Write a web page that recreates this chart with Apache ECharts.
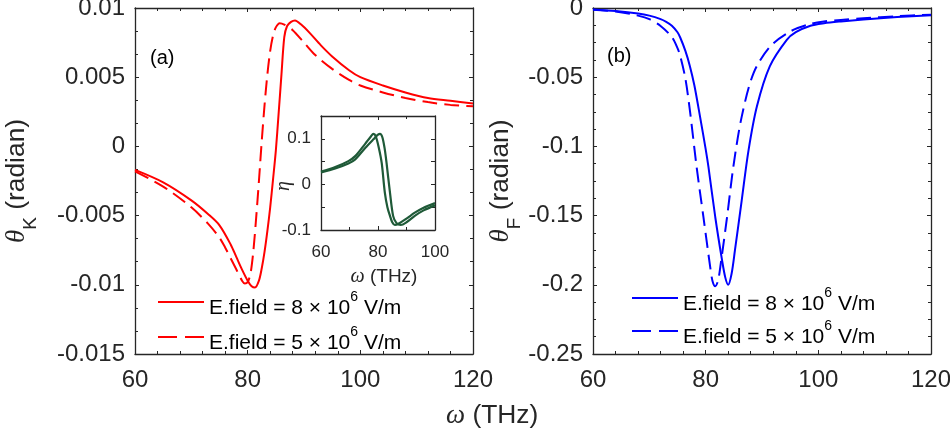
<!DOCTYPE html>
<html>
<head>
<meta charset="utf-8">
<title>Kerr and Faraday rotation</title>
<script src="https://cdn.jsdelivr.net/npm/echarts@6/dist/echarts.min.js"></script>
<style>
  html, body { margin: 0; padding: 0; background: #fff; }
  #chart { width: 950px; height: 438px; }
</style>
</head>
<body>
<div id="chart"></div>
<script>
// (a) Kerr angle, E.field = 8e6 V/m (solid)
const omegaKerr8 = [60, 65, 70, 73, 75, 77, 78, 79, 80, 80.7, 81.3, 82, 82.5, 83, 83.5, 84, 84.5, 85, 85.5, 86, 86.5, 87, 87.7, 88.4, 89.5, 91, 93, 95, 98, 100, 104, 108, 112, 116, 120]
const kerr8 = [-0.0017, -0.0026, -0.0039, -0.0049, -0.0057, -0.0071, -0.0080, -0.0089, -0.0097, -0.0101, -0.0102, -0.0097, -0.0088, -0.0076, -0.0061, -0.0044, -0.0024, -0.0003, 0.0024, 0.0052, 0.0079, 0.0087, 0.0090, 0.0091, 0.0088, 0.0082, 0.0073, 0.0065, 0.0055, 0.0050, 0.0044, 0.0039, 0.0035, 0.0033, 0.0031]
// (a) Kerr angle, E.field = 5e6 V/m (dashed)
const omegaKerr5 = [60, 65, 70, 73, 75, 76, 77, 78, 79, 79.5, 80, 80.5, 81, 81.5, 82, 82.5, 83, 83.5, 84, 84.5, 85, 85.7, 86.5, 88, 90, 92, 95, 98, 100, 104, 108, 112, 116, 120]
const kerr5 = [-0.0018, -0.0029, -0.0044, -0.0056, -0.0066, -0.0073, -0.0081, -0.0089, -0.0097, -0.0099, -0.0098, -0.0092, -0.0076, -0.0052, -0.0025, 0.0004, 0.0030, 0.0052, 0.0069, 0.0080, 0.0086, 0.0089, 0.0088, 0.0084, 0.0075, 0.0066, 0.0056, 0.0048, 0.0044, 0.0039, 0.0035, 0.0032, 0.0030, 0.0029]

// (b) Faraday angle
const omegaFar8 = [60, 64, 68, 70, 72, 73, 74, 75, 75.5, 76.4, 77.2, 78, 79, 80, 80.5, 81.7, 82.9, 83.5, 84, 84.6, 85.2, 86.4, 87.6, 89.1, 91.4, 94.4, 96, 98.6, 101, 104, 108, 114, 120]
const far8 = [-0.0010, -0.0022, -0.0040, -0.0055, -0.0080, -0.0100, -0.0128, -0.0175, -0.0215, -0.031, -0.042, -0.056, -0.0785, -0.102, -0.115, -0.151, -0.182, -0.195, -0.200, -0.192, -0.175, -0.139, -0.103, -0.071, -0.042, -0.023, -0.0175, -0.0128, -0.0110, -0.0097, -0.0083, -0.0065, -0.0052]
const omegaFar5 = [60, 64, 68, 70, 72, 74, 75, 75.5, 76.4, 77.2, 78.4, 79.6, 80.8, 81.2, 81.7, 82.2, 82.6, 83.8, 84.9, 86.4, 88.5, 91.4, 95, 98.6, 101, 104, 108, 114, 120]
const far5 = [-0.0012, -0.0025, -0.0055, -0.0080, -0.0130, -0.0210, -0.029, -0.035, -0.051, -0.074, -0.115, -0.151, -0.187, -0.197, -0.201, -0.197, -0.187, -0.151, -0.115, -0.0785, -0.047, -0.028, -0.017, -0.0115, -0.0097, -0.0086, -0.0074, -0.0059, -0.0048]

// inset: eta
const omegaEta8 = [60, 65, 69.6, 72, 75.5, 78.4, 80, 80.7, 81.5, 82.3, 83, 84.2, 85.3, 86.5, 88, 90, 92.9, 96, 100]
const eta8 = [0.026, 0.035, 0.046, 0.055, 0.080, 0.099, 0.109, 0.111, 0.104, 0.080, 0.047, -0.018, -0.069, -0.085, -0.089, -0.083, -0.069, -0.057, -0.046]
const omegaEta5 = [60, 65, 69.6, 72, 75.5, 77.5, 78.4, 79.2, 80.3, 81.3, 82.4, 83.3, 84.2, 85, 85.9, 87.5, 90, 92.9, 96, 100]
const eta5 = [0.028, 0.038, 0.051, 0.062, 0.089, 0.105, 0.111, 0.106, 0.080, 0.047, -0.018, -0.050, -0.069, -0.083, -0.089, -0.085, -0.075, -0.062, -0.051, -0.041]

const legendText = {
    a8: '{n|E.field = 8 × 10}{s|6}{n| V/m}',
    a5: '{n|E.field = 5 × 10}{s|6}{n| V/m}',
    b8: '{n|E.field = 8 × 10}{s|6}{n| V/m}',
    b5: '{n|E.field = 5 × 10}{s|6}{n| V/m}'
}

const sans = 'Liberation Sans, Arial, sans-serif'
const serif = 'Liberation Serif, Times New Roman, serif'
const axisColor = '#262626'
const dash = [15, 7]

function pairs(xs, ys) {
    return xs.map((x, i) => [x, ys[i]])
}
function numLabel(v) {
    return String(+v.toFixed(4))
}

// one axis of a boxed plot; labels only on bottom / left
function makeAxis(grid, pos, min, max, interval, minorSplit, fontSize, extra) {
    const withLabel = pos === 'bottom' || pos === 'left'
    return Object.assign({
        type: 'value',
        gridIndex: grid,
        position: pos,
        min: min,
        max: max,
        interval: interval,
        nameMoveOverlap: false,
        splitLine: { show: false },
        axisLine: { show: true, onZero: false, lineStyle: { color: axisColor, width: 1.3 } },
        axisTick: { show: true, inside: true, length: 4, lineStyle: { color: axisColor, width: 1 } },
        minorTick: { show: minorSplit > 1, splitNumber: minorSplit, length: 3, lineStyle: { color: axisColor, width: 1 } },
        axisLabel: {
            show: withLabel,
            color: axisColor,
            fontFamily: sans,
            fontSize: fontSize,
            margin: pos === 'bottom' ? 14 : 10,
            showMinLabel: true,
            showMaxLabel: true,
            formatter: numLabel
        }
    }, extra || {})
}

function yName(sub, gap) {
    return {
        name: '{t|θ}{k|' + sub + '}{n| (radian)}',
        nameLocation: 'middle',
        nameRotate: 90,
        nameGap: gap,
        nameTextStyle: {
            rich: {
                t: { fontFamily: serif, fontStyle: 'italic', fontSize: 27, lineHeight: 46, color: axisColor },
                k: { fontFamily: sans, fontSize: 19, lineHeight: 19, verticalAlign: 'bottom', color: axisColor },
                n: { fontFamily: sans, fontSize: 26.4, lineHeight: 46, color: axisColor }
            }
        }
    }
}

// text sits a little below the sample line, the exponent is raised
function legendAt(name, left, top, lineType) {
    const lg = {
        data: [name],
        left: left,
        top: top,
        padding: 0,
        itemWidth: 46,
        itemHeight: 14,
        selectedMode: false,
        itemStyle: { color: 'transparent', borderWidth: 0, opacity: 0 },
        formatter: n => legendText[n],
        textStyle: {
            color: '#000',
            fontFamily: sans,
            fontSize: 21,
            rich: {
                n: { fontFamily: sans, fontSize: 21, lineHeight: 34, verticalAlign: 'bottom', color: '#000' },
                s: { fontFamily: sans, fontSize: 14, lineHeight: 14, verticalAlign: 'top', padding: [5, 0, 0, 0], color: '#000' }
            }
        }
    }
    if (lineType) lg.lineStyle = { type: lineType }
    return lg
}

function lineSeries(name, x, y, xi, yi, color, type, width) {
    return {
        type: 'line',
        name: name,
        xAxisIndex: xi,
        yAxisIndex: yi,
        data: pairs(x, y),
        symbol: 'none',
        showSymbol: false,
        smooth: 0.3,
        lineStyle: { color: color, width: width, type: type },
        itemStyle: { color: color },
        z: 3
    }
}

// inset y labels only at -0.1, 0, 0.1
const etaLabel = v => (Math.abs(v * 10 - Math.round(v * 10)) < 1e-6 && v < 0.12 ? numLabel(v) : '')

const option = {
    animation: false,
    backgroundColor: '#fff',
    title: [
        { text: '(a)', left: 150, top: 48, padding: 0, textStyle: { fontFamily: sans, fontSize: 20, fontWeight: 'normal', color: '#000' } },
        { text: '(b)', left: 607, top: 46, padding: 0, textStyle: { fontFamily: sans, fontSize: 20, fontWeight: 'normal', color: '#000' } },
        {
            text: '{w|ω}{n| (THz)}', left: 446, top: 402, padding: 0,
            textStyle: {
                fontWeight: 'normal',
                rich: {
                    w: { fontFamily: serif, fontStyle: 'italic', fontWeight: 'normal', fontSize: 27, color: axisColor },
                    n: { fontFamily: sans, fontWeight: 'normal', fontSize: 26.4, color: axisColor }
                }
            }
        }
    ],
    grid: [
        { left: 135, top: 8, width: 338, height: 346, outerBoundsMode: 'none' },
        { left: 593, top: 8, width: 338, height: 346, outerBoundsMode: 'none' },
        { left: 321, top: 116, width: 114, height: 114, show: true, backgroundColor: '#fff', borderWidth: 0, outerBoundsMode: 'none', z: 4 }
    ],
    xAxis: [
        makeAxis(0, 'bottom', 60, 120, 20, 5, 24),
        makeAxis(0, 'top', 60, 120, 20, 5, 24),
        makeAxis(1, 'bottom', 60, 120, 20, 5, 24),
        makeAxis(1, 'top', 60, 120, 20, 5, 24),
        makeAxis(2, 'bottom', 60, 100, 20, 2, 17, {
            name: '{w|ω}{n| (THz)}', nameLocation: 'middle', nameGap: 37,
            nameTextStyle: {
                padding: [0, 0, 0, 12],
                rich: {
                    w: { fontFamily: serif, fontStyle: 'italic', fontSize: 20, color: axisColor },
                    n: { fontFamily: sans, fontSize: 19, color: axisColor }
                }
            },
            z: 5
        }),
        makeAxis(2, 'top', 60, 100, 20, 2, 17, { z: 5 })
    ],
    yAxis: [
        makeAxis(0, 'left', -0.015, 0.01, 0.005, 3, 24, yName('K', 95)),
        makeAxis(0, 'right', -0.015, 0.01, 0.005, 3, 24),
        makeAxis(1, 'left', -0.25, 0, 0.05, 4, 24, yName('F', 69)),
        makeAxis(1, 'right', -0.25, 0, 0.05, 4, 24),
        makeAxis(2, 'left', -0.1, 0.15, 0.05, 0, 17, {
            name: 'η', nameLocation: 'middle', nameRotate: 90, nameGap: 27,
            nameTextStyle: { fontFamily: serif, fontStyle: 'italic', fontSize: 20, color: axisColor, padding: [0, 26, 0, 0] },
            z: 5
        }),
        makeAxis(2, 'right', -0.1, 0.15, 0.05, 0, 17, { z: 5 })
    ],
    legend: [
        legendAt('a8', 157, 285),
        legendAt('a5', 157, 320, [19, 8]),
        legendAt('b8', 631, 281),
        legendAt('b5', 631, 314, [19, 8])
    ],
    series: [
        lineSeries('a8', omegaKerr8, kerr8, 0, 0, '#ff0000', 'solid', 2),
        lineSeries('a5', omegaKerr5, kerr5, 0, 0, '#ff0000', dash, 2),
        lineSeries('b8', omegaFar8, far8, 2, 2, '#0000ff', 'solid', 2),
        lineSeries('b5', omegaFar5, far5, 2, 2, '#0000ff', dash, 2),
        Object.assign(lineSeries('i8', omegaEta8, eta8, 4, 4, '#1f5a38', 'solid', 2.2), { z: 6 }),
        Object.assign(lineSeries('i5', omegaEta5, eta5, 4, 4, '#1f5a38', 'solid', 2.2), { z: 6 })
    ]
}
option.yAxis[4].axisLabel.formatter = etaLabel

const chart = echarts.init(document.getElementById('chart'))
chart.setOption(option)
window.addEventListener('resize', () => chart.resize())
</script>
</body>
</html>
